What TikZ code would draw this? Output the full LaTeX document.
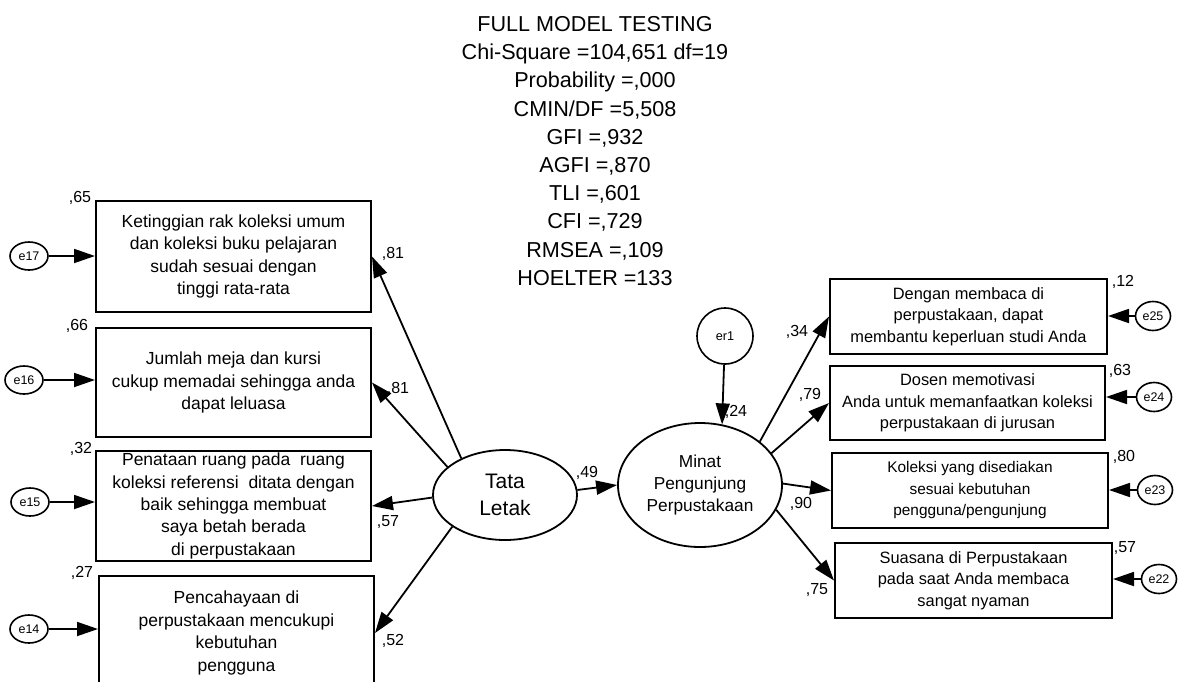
\documentclass[tikz,border=0pt]{standalone}
\usepackage{fontspec}
\setmainfont{Liberation Sans}
\usetikzlibrary{shapes.geometric,arrows.meta}
\begin{document}
\begin{tikzpicture}[x=1pt,y=-1pt,
 ind/.style={draw, line width=2pt, inner sep=0pt, align=center, minimum width=275pt},
 lbox/.style={ind, font=\fontsize{17.5}{22.4}\selectfont},
 rbox/.style={ind, font=\fontsize{16.4}{21.7}\selectfont},
 errl/.style={draw, ellipse, line width=1.6pt, minimum width=38pt, minimum height=28pt, inner sep=0pt, font=\fontsize{12.5}{14}\selectfont},
 errr/.style={errl, minimum width=35pt, minimum height=29pt},
 lat/.style={draw, ellipse, line width=1.8pt, inner sep=0pt, align=center},
 arr/.style={line width=1.8pt, -{Triangle[length=21pt,width=14pt]}},
 coef/.style={font=\fontsize{16}{18}\selectfont, inner sep=0pt}]
\useasboundingbox (0,0) rectangle (1178,681);
\fill[white] (0,0) rectangle (1178,681);
\clip (0,0) rectangle (1178,681);

% title
\node[font=\fontsize{21.6}{28.2}\selectfont, align=center, inner sep=0pt] (title) at (595,151)
 {FULL MODEL TESTING\\Chi-Square =104,651 df=19\\Probability =,000\\CMIN/DF =5,508\\GFI =,932\\AGFI =,870\\TLI =,601\\CFI =,729\\RMSEA =,109\\HOELTER =133};

% left indicator boxes
\node[lbox, minimum height=111pt] (b1) at (233.5,256.5) {Ketinggian rak koleksi umum\\dan koleksi buku pelajaran\\sudah sesuai dengan\\tinggi rata-rata};
\node[lbox, minimum height=109pt] (b2) at (233.5,382.5) {Jumlah meja dan kursi\\cukup memadai sehingga anda\\dapat leluasa};
\node[lbox, minimum height=110pt] (b3) at (233.5,506) {Penataan ruang pada\ \ ruang\\koleksi referensi\ \ ditata dengan\\baik sehingga membuat\\saya betah berada\\di perpustakaan};
\node[lbox, minimum height=114pt] (b4) at (236.5,633) {Pencahayaan di\\perpustakaan mencukupi\\kebutuhan\\pengguna};

% right indicator boxes
\node[rbox, minimum width=277pt, minimum height=75pt] (r1) at (968.5,316.5) {Dengan membaca di\\perpustakaan, dapat\\membantu keperluan studi Anda};
\node[rbox, minimum height=74pt] (r2) at (967.5,403) {Dosen memotivasi\\Anda untuk memanfaatkan koleksi\\perpustakaan di jurusan};
\node[rbox, minimum width=276pt, minimum height=75pt, font=\fontsize{15.4}{21.5}\selectfont] (r3) at (970,490.5) {Koleksi yang disediakan\\sesuai kebutuhan\\pengguna/pengunjung};
\node[rbox, minimum width=277pt, minimum height=75pt] (r4) at (973.5,580.5) {Suasana di Perpustakaan\\pada saat Anda membaca\\sangat nyaman};

% latent variables
\node[lat, minimum width=144pt, minimum height=90pt, font=\fontsize{21}{27}\selectfont] (tata) at (505,495) {Tata\\Letak};
\node[lat, minimum width=164pt, minimum height=124pt, font=\fontsize{17.3}{21.7}\selectfont] (minat) at (700,485) {Minat\\Pengunjung\\Perpustakaan};
\node[draw, circle, line width=1.6pt, minimum size=56pt, inner sep=0pt, font=\fontsize{12.7}{14}\selectfont] (er1) at (725,336) {er1};

% error terms
\node[errl] (e17) at (29,256) {e17};
\node[errl] (e16) at (24,380) {e16};
\node[errl] (e15) at (30,502) {e15};
\node[errl] (e14) at (29,629) {e14};
\node[errr] (e25) at (1153,316) {e25};
\node[errr] (e24) at (1154,397) {e24};
\node[errr] (e23) at (1155,490) {e23};
\node[errr] (e22) at (1159,579) {e22};

% error arrows
\draw[arr] (e17) -- (e17 -| b1.west);
\draw[arr] (e16) -- (e16 -| b2.west);
\draw[arr] (e15) -- (e15 -| b3.west);
\draw[arr] (e14) -- (e14 -| b4.west);
\draw[arr] (e25) -- (e25 -| r1.east);
\draw[arr] (e24) -- (e24 -| r2.east);
\draw[arr] (e23) -- (e23 -| r3.east);
\draw[arr] (e22) -- (e22 -| r4.east);

% loadings
\draw[arr] (tata.140) -- (b1.east);
\draw[arr] (tata.154) -- (b2.east);
\draw[arr] (tata.182) -- (b3.east);
\draw[arr] (tata.211) -- (b4.east);
\draw[arr] (tata.4) -- (minat.west);
\draw[arr] (er1) -- (minat.70);
\draw[arr] (minat.36) -- (r1.west);
\draw[arr] (minat.24) -- (r2.west);
\draw[arr] (minat.1) -- (r3.west);
\draw[arr] (minat.-18) -- (r4.west);

% coefficients
\node[coef] (c65) at (80,198) {,65};
\node[coef] (c66) at (77,326) {,66};
\node[coef] (c32) at (81,449) {,32};
\node[coef] (c27) at (82,573) {,27};
\node[coef] (l81a) at (393,254) {,81};
\node[coef] (l81b) at (398,389) {,81};
\node[coef] (l57a) at (388,522) {,57};
\node[coef] (l52) at (393,641) {,52};
\node[coef] (l49) at (587,473) {,49};
\node[coef] (l24) at (736,412) {,24};
\node[coef] (l34) at (797,332) {,34};
\node[coef] (l79) at (810,395) {,79};
\node[coef] (l90) at (801,504) {,90};
\node[coef] (l75) at (817,590) {,75};
\node[coef] (c12) at (1123,282) {,12};
\node[coef] (c63) at (1120,371) {,63};
\node[coef] (c80) at (1124,457) {,80};
\node[coef] (c57) at (1125,548) {,57};
\end{tikzpicture}
\end{document}
